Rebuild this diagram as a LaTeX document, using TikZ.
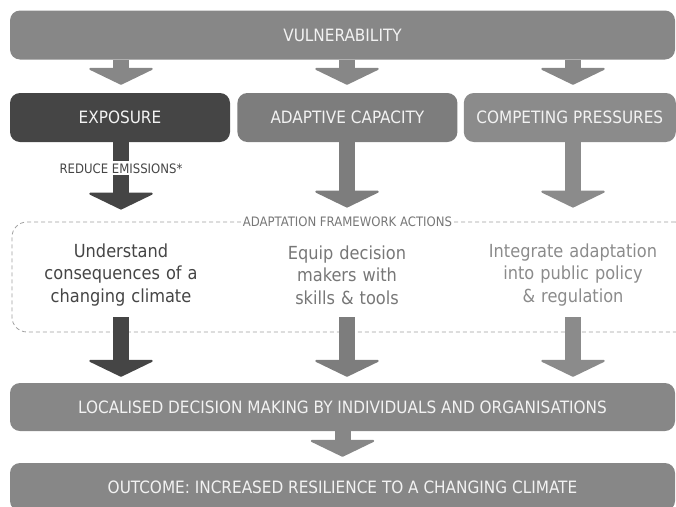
\documentclass[tikz,border=0pt]{standalone}
\usepackage{fontspec}
\setmainfont{DejaVu Sans Condensed}
\usetikzlibrary{arrows.meta, positioning, calc}
\definecolor{bargray}{HTML}{878787}
\definecolor{expogray}{HTML}{454545}
\definecolor{adaptgray}{HTML}{7D7D7D}
\definecolor{competegray}{HTML}{8B8B8B}
\definecolor{framegray}{HTML}{A0A0A0}
\definecolor{labelgray}{HTML}{777777}
\definecolor{bartext}{HTML}{F2F2F2}
\tikzstyle{bar} = [rectangle, rounded corners=10pt, fill=bargray, text=bartext, minimum height=49pt, inner sep=0pt, font=\fontsize{17}{20}\selectfont]
\tikzstyle{action} = [text width=210pt, align=center, minimum height=84pt, inner sep=0pt, font=\fontsize{18}{22.5}\selectfont]
\tikzstyle{tag} = [fill=white, inner sep=2pt, font=\fontsize{13}{15}\selectfont]
\tikzstyle{flow} = [line width=16pt, -{Triangle[length=17pt,width=70pt,line width=2pt,round]}]

\begin{document}
\begin{tikzpicture}[x=1pt, y=-1pt]
    \useasboundingbox (0,0) rectangle (676,506);

    \node (vuln) [bar, minimum width=665pt] at (342.5,35) {VULNERABILITY};
    \node (expo) [bar, fill=expogray, minimum width=220pt] at (120,117.5) {EXPOSURE};
    \node (adapt) [bar, fill=adaptgray, minimum width=220pt, right=7pt of expo] {ADAPTIVE CAPACITY};
    \node (compete) [bar, fill=competegray, minimum width=212pt, right=6pt of adapt] {COMPETING PRESSURES};

    \node (frame) [rectangle, draw=framegray, line width=0.8pt, dash pattern=on 4pt off 3pt, rounded corners=15pt, minimum width=678pt, minimum height=110pt] at (351,277) {};
    \node (framelabel) [tag, text=labelgray] at (frame.north -| adapt) {ADAPTATION FRAMEWORK ACTIONS};

    \node (understand) [action, text=expogray] at (121,275) {Understand\\consequences of a\\changing climate};
    \node (equip) [action, text=labelgray] at (347,275) {Equip decision\\makers with\\skills \& tools};
    \node (integrate) [action, text=competegray] at (573,275) {Integrate adaptation\\into public policy\\\& regulation};

    \node (local) [bar, minimum width=665pt, minimum height=48pt] at (342.5,407) {LOCALISED DECISION MAKING BY INDIVIDUALS AND ORGANISATIONS};
    \node (outcome) [bar, minimum width=665pt, minimum height=48pt] at (342.5,487) {OUTCOME: INCREASED RESILIENCE TO A CHANGING CLIMATE};

    \draw [flow, draw=bargray, shorten >=8pt] (vuln.south -| understand) -- (expo.north -| understand);
    \draw [flow, draw=bargray, shorten >=8pt] (vuln.south -| equip) -- (adapt.north -| equip);
    \draw [flow, draw=bargray, shorten >=8pt] (vuln.south -| integrate) -- (compete.north -| integrate);

    \draw [flow, draw=expogray, shorten >=12pt] (expo.south -| understand) -- (frame.north -| understand);
    \draw [flow, draw=adaptgray, shorten >=14pt] (adapt.south -| equip) -- (frame.north -| equip);
    \draw [flow, draw=competegray, shorten >=14pt] (compete.south -| integrate) -- (frame.north -| integrate);
    \node (reduce) [tag, text=expogray, below=19pt of expo.south -| understand] {REDUCE EMISSIONS*};

    \draw [flow, draw=expogray, shorten >=6pt] (understand) -- (local.north -| understand);
    \draw [flow, draw=adaptgray, shorten >=6pt] (equip) -- (local.north -| equip);
    \draw [flow, draw=competegray, shorten >=6pt] (integrate) -- (local.north -| integrate);
    \draw [flow, draw=bargray, shorten >=6pt] (local) -- (outcome);
\end{tikzpicture}
\end{document}
